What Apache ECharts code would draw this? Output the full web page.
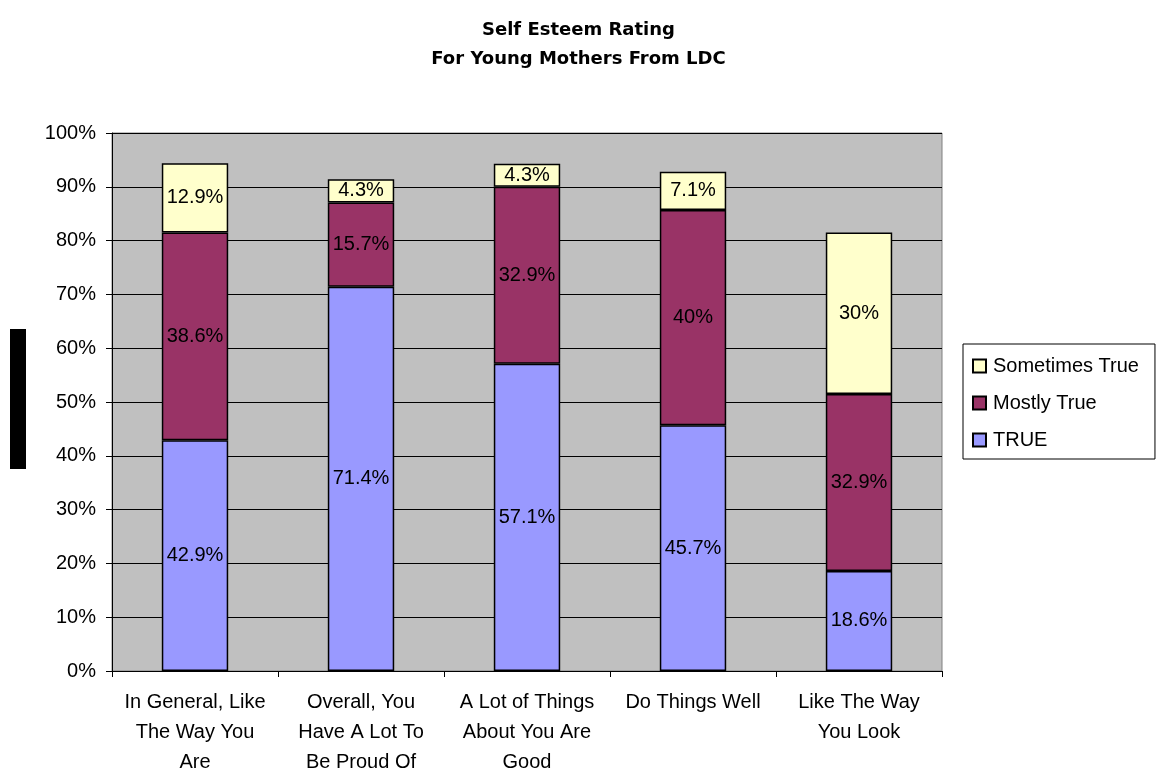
<!DOCTYPE html>
<html>
<head>
<meta charset="UTF-8">
<title>Self Esteem Rating</title>
<script type="text/javascript" src="https://cdn.jsdelivr.net/npm/echarts@6/dist/echarts.min.js"></script>
<style>
body { margin: 0; background: #fff; }
</style>
</head>
<body>
<div id="div" style="width:1157px;height:773px"></div>
<script type="text/javascript">
var categories = ['In General, Like\nThe Way You\nAre', 'Overall, You\nHave A Lot To\nBe Proud Of',
	'A Lot of Things\nAbout You Are\nGood', 'Do Things Well', 'Like The Way\nYou Look'];
var trueVals = [42.9, 71.4, 57.1, 45.7, 18.6];
var mostlyVals = [38.6, 15.7, 32.9, 40, 32.9];
var sometimesVals = [12.9, 4.3, 4.3, 7.1, 30];
var yTicks = ['0%', '10%', '20%', '30%', '40%', '50%', '60%', '70%', '80%', '90%', '100%'];

var mychart = echarts.init(document.getElementById('div'));
var font = 'Liberation Sans, Arial, sans-serif';

function makeSeries(name, data, color) {
	return {
		name: name,
		type: 'bar',
		stack: 'all',
		barWidth: '40%',
		data: data,
		itemStyle: { color: color, borderColor: '#000', borderWidth: 1.5 },
		label: {
			show: true,
			position: 'inside',
			fontFamily: font,
			fontSize: 20,
			color: '#000',
			formatter: function (p) { return p.value + '%'; }
		}
	};
}

var option = {
	animation: false,
	title: {
		text: 'Self Esteem Rating\nFor Young Mothers From LDC',
		left: 'center',
		top: 11,
		textStyle: { fontFamily: 'DejaVu Sans, sans-serif', fontSize: 18, fontWeight: 'bold', color: '#000', lineHeight: 29 }
	},
	legend: {
		orient: 'vertical',
		left: 963,
		top: 344,
		padding: [12, 16, 9, 9],
		itemGap: 17,
		itemWidth: 13,
		itemHeight: 13,
		icon: 'rect',
		borderColor: '#000',
		borderWidth: 1,
		textStyle: { fontFamily: font, fontSize: 20, lineHeight: 20, color: '#000', padding: [0, 0, 0, 2] },
		data: ['Sometimes True', 'Mostly True', 'TRUE']
	},
	grid: {
		left: 112, right: 215, top: 133, bottom: 102,
		outerBoundsMode: 'none',
		show: true,
		backgroundColor: '#C0C0C0',
		borderColor: '#808080',
		borderWidth: 1
	},
	xAxis: {
		type: 'category',
		data: categories,
		axisLine: { lineStyle: { color: '#000', width: 1 } },
		axisTick: { show: true, length: 6, lineStyle: { color: '#000' } },
		axisLabel: {
			fontFamily: font, fontSize: 20, color: '#000',
			lineHeight: 30, margin: 16, interval: 0
		}
	},
	yAxis: {
		type: 'value',
		min: 0,
		max: 100,
		interval: 10,
		axisLine: { show: true, lineStyle: { color: '#000', width: 1 } },
		axisTick: { show: true, length: 6, lineStyle: { color: '#000' } },
		splitLine: { lineStyle: { color: '#000', width: 1 } },
		axisLabel: {
			fontFamily: font, fontSize: 20, color: '#000', margin: 16,
			formatter: function (v) { return yTicks[Math.round(v / 10)]; }
		}
	},
	graphic: [{
		type: 'rect',
		shape: { x: 10, y: 329, width: 16, height: 140 },
		style: { fill: '#000' }
	}],
	series: [
		makeSeries('TRUE', trueVals, '#9999FF'),
		makeSeries('Mostly True', mostlyVals, '#993366'),
		makeSeries('Sometimes True', sometimesVals, '#FFFFCC')
	]
};
mychart.setOption(option);
</script>
</body>
</html>
